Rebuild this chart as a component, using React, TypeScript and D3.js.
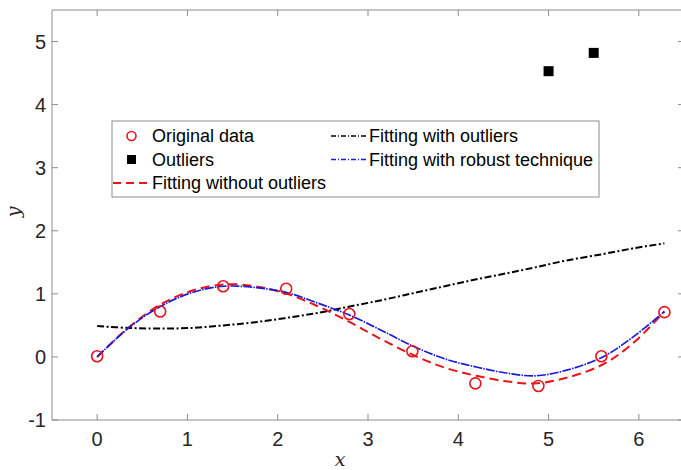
import React from "react";
import * as d3 from "d3";

// raw samples
const dataX = [0, 0.698, 1.396, 2.094, 2.793, 3.491, 4.189, 4.887, 5.585, 6.283];
const dataY = [0.01, 0.72, 1.12, 1.08, 0.68, 0.09, -0.42, -0.46, 0.01, 0.71];

const outlierX = [5.0, 5.5];
const outlierY = [4.53, 4.82];

// fitted curves
const fitX = [0, 0.35, 0.7, 1.05, 1.4, 1.75, 2.1, 2.45, 2.8, 3.15, 3.5, 3.85, 4.2, 4.55, 4.85, 5.2, 5.6, 5.93, 6.283];
const fitWithOutliers = [0.49, 0.46, 0.45, 0.46, 0.5, 0.55, 0.62, 0.7, 0.8, 0.9, 1.01, 1.12, 1.23, 1.33, 1.42, 1.53, 1.63, 1.72, 1.8];
const fitWithoutOutliers = [0, 0.47, 0.83, 1.05, 1.15, 1.12, 1.0, 0.8, 0.55, 0.28, 0.03, -0.17, -0.3, -0.39, -0.42, -0.33, -0.12, 0.21, 0.72];
const fitRobust = [0, 0.46, 0.8, 1.02, 1.12, 1.1, 1.02, 0.85, 0.66, 0.42, 0.17, -0.03, -0.16, -0.26, -0.3, -0.21, 0.0, 0.31, 0.72];

const xTicks = [0, 1, 2, 3, 4, 5, 6];
const yTicks = [-1, 0, 1, 2, 3, 4, 5];

const width = 681;
const height = 470;
const left = 52;
const right = 684;
const top = 10;
const bottom = 420;

const font = "'Liberation Sans', Arial, Helvetica, sans-serif";
const axisColor = "#8c8c8c";
const textColor = "#262626";

export default function App() {
  const x = d3.scaleLinear().domain([-0.5, 6.5]).range([left, right]);
  const y = d3.scaleLinear().domain([-1, 5.5]).range([bottom, top]);

  const line = d3
    .line<number>()
    .x((_, i) => x(fitX[i]))
    .y((d) => y(d))
    .curve(d3.curveCatmullRom);

  const lg = { x: 112, y: 121, w: 487, h: 76 };
  const rows = [136, 159.5, 183];
  const col2 = 331;
  const lgFont = 18;

  return (
    <svg
      width={width}
      height={height}
      style={{ position: "absolute", left: 0, top: 0, background: "#fff" }}
    >
      {/* axes box */}
      <line x1={left} x2={right} y1={top} y2={top} stroke={axisColor} />
      <line x1={left} x2={right} y1={bottom} y2={bottom} stroke={axisColor} />
      <line x1={left} x2={left} y1={top} y2={bottom} stroke={axisColor} />
      <line x1={right} x2={right} y1={top} y2={bottom} stroke={axisColor} />

      {xTicks.map((t) => (
        <g key={"x" + t}>
          <line x1={x(t)} x2={x(t)} y1={bottom} y2={bottom - 6} stroke={axisColor} />
          <line x1={x(t)} x2={x(t)} y1={top} y2={top + 6} stroke={axisColor} />
          <text
            x={x(t)}
            y={446}
            textAnchor="middle"
            fontFamily={font}
            fontSize={20}
            fill={textColor}
          >
            {t}
          </text>
        </g>
      ))}
      {yTicks.map((t) => (
        <g key={"y" + t}>
          <line x1={left} x2={left + 6} y1={y(t)} y2={y(t)} stroke={axisColor} />
          <line x1={right} x2={right - 6} y1={y(t)} y2={y(t)} stroke={axisColor} />
          <text
            x={46}
            y={y(t)}
            dy="0.35em"
            textAnchor="end"
            fontFamily={font}
            fontSize={20}
            fill={textColor}
          >
            {t}
          </text>
        </g>
      ))}

      <text
        x={340}
        y={466}
        textAnchor="middle"
        fontFamily="'DejaVu Serif', 'Liberation Serif', serif"
        fontStyle="italic"
        fontSize={19}
        fill={textColor}
      >
        x
      </text>
      <text
        transform={`translate(20, 212) rotate(-90)`}
        textAnchor="middle"
        fontFamily="'DejaVu Serif', 'Liberation Serif', serif"
        fontStyle="italic"
        fontSize={19}
        fill={textColor}
      >
        y
      </text>

      {/* fits */}
      <path d={line(fitWithOutliers) ?? ""} fill="none" stroke="#000" strokeWidth={2} strokeDasharray="7,2.5,2,2.5" />
      <path d={line(fitWithoutOutliers) ?? ""} fill="none" stroke="#e8141c" strokeWidth={2} strokeDasharray="9,5" />
      <path d={line(fitRobust) ?? ""} fill="none" stroke="#1a1adc" strokeWidth={1.7} strokeDasharray="9,1.2,1.5,1.2" />

      {/* data */}
      {dataX.map((d, i) => (
        <circle key={"c" + i} cx={x(d)} cy={y(dataY[i])} r={5.5} fill="none" stroke="#e8141c" strokeWidth={1.6} />
      ))}
      {outlierX.map((d, i) => (
        <rect key={"s" + i} x={x(d) - 5} y={y(outlierY[i]) - 5} width={10} height={10} fill="#000" />
      ))}

      {/* legend */}
      <rect x={lg.x} y={lg.y} width={lg.w} height={lg.h} fill="#fff" stroke={axisColor} />
      <circle cx={131.5} cy={rows[0]} r={4.5} fill="none" stroke="#e8141c" strokeWidth={1.6} />
      <text x={152} y={rows[0]} dy="0.35em" fontFamily={font} fontSize={lgFont} fill="#000">
        Original data
      </text>
      <rect x={127} y={rows[1] - 4.5} width={9} height={9} fill="#000" />
      <text x={152} y={rows[1]} dy="0.35em" fontFamily={font} fontSize={lgFont} fill="#000">
        Outliers
      </text>
      <line x1={113} x2={150} y1={rows[2]} y2={rows[2]} stroke="#e8141c" strokeWidth={2} strokeDasharray="8,5" />
      <text x={152} y={rows[2]} dy="0.35em" fontFamily={font} fontSize={lgFont} fill="#000">
        Fitting without outliers
      </text>
      <line x1={col2} x2={367} y1={rows[0]} y2={rows[0]} stroke="#000" strokeWidth={1.6} strokeDasharray="5,2,1,2" />
      <text x={369} y={rows[0]} dy="0.35em" fontFamily={font} fontSize={lgFont} fill="#000">
        Fitting with outliers
      </text>
      <line x1={col2} x2={367} y1={rows[1]} y2={rows[1]} stroke="#1a1adc" strokeWidth={1.6} strokeDasharray="5,2,1,2" />
      <text x={369} y={rows[1]} dy="0.35em" fontFamily={font} fontSize={lgFont} fill="#000">
        Fitting with robust technique
      </text>
    </svg>
  );
}
